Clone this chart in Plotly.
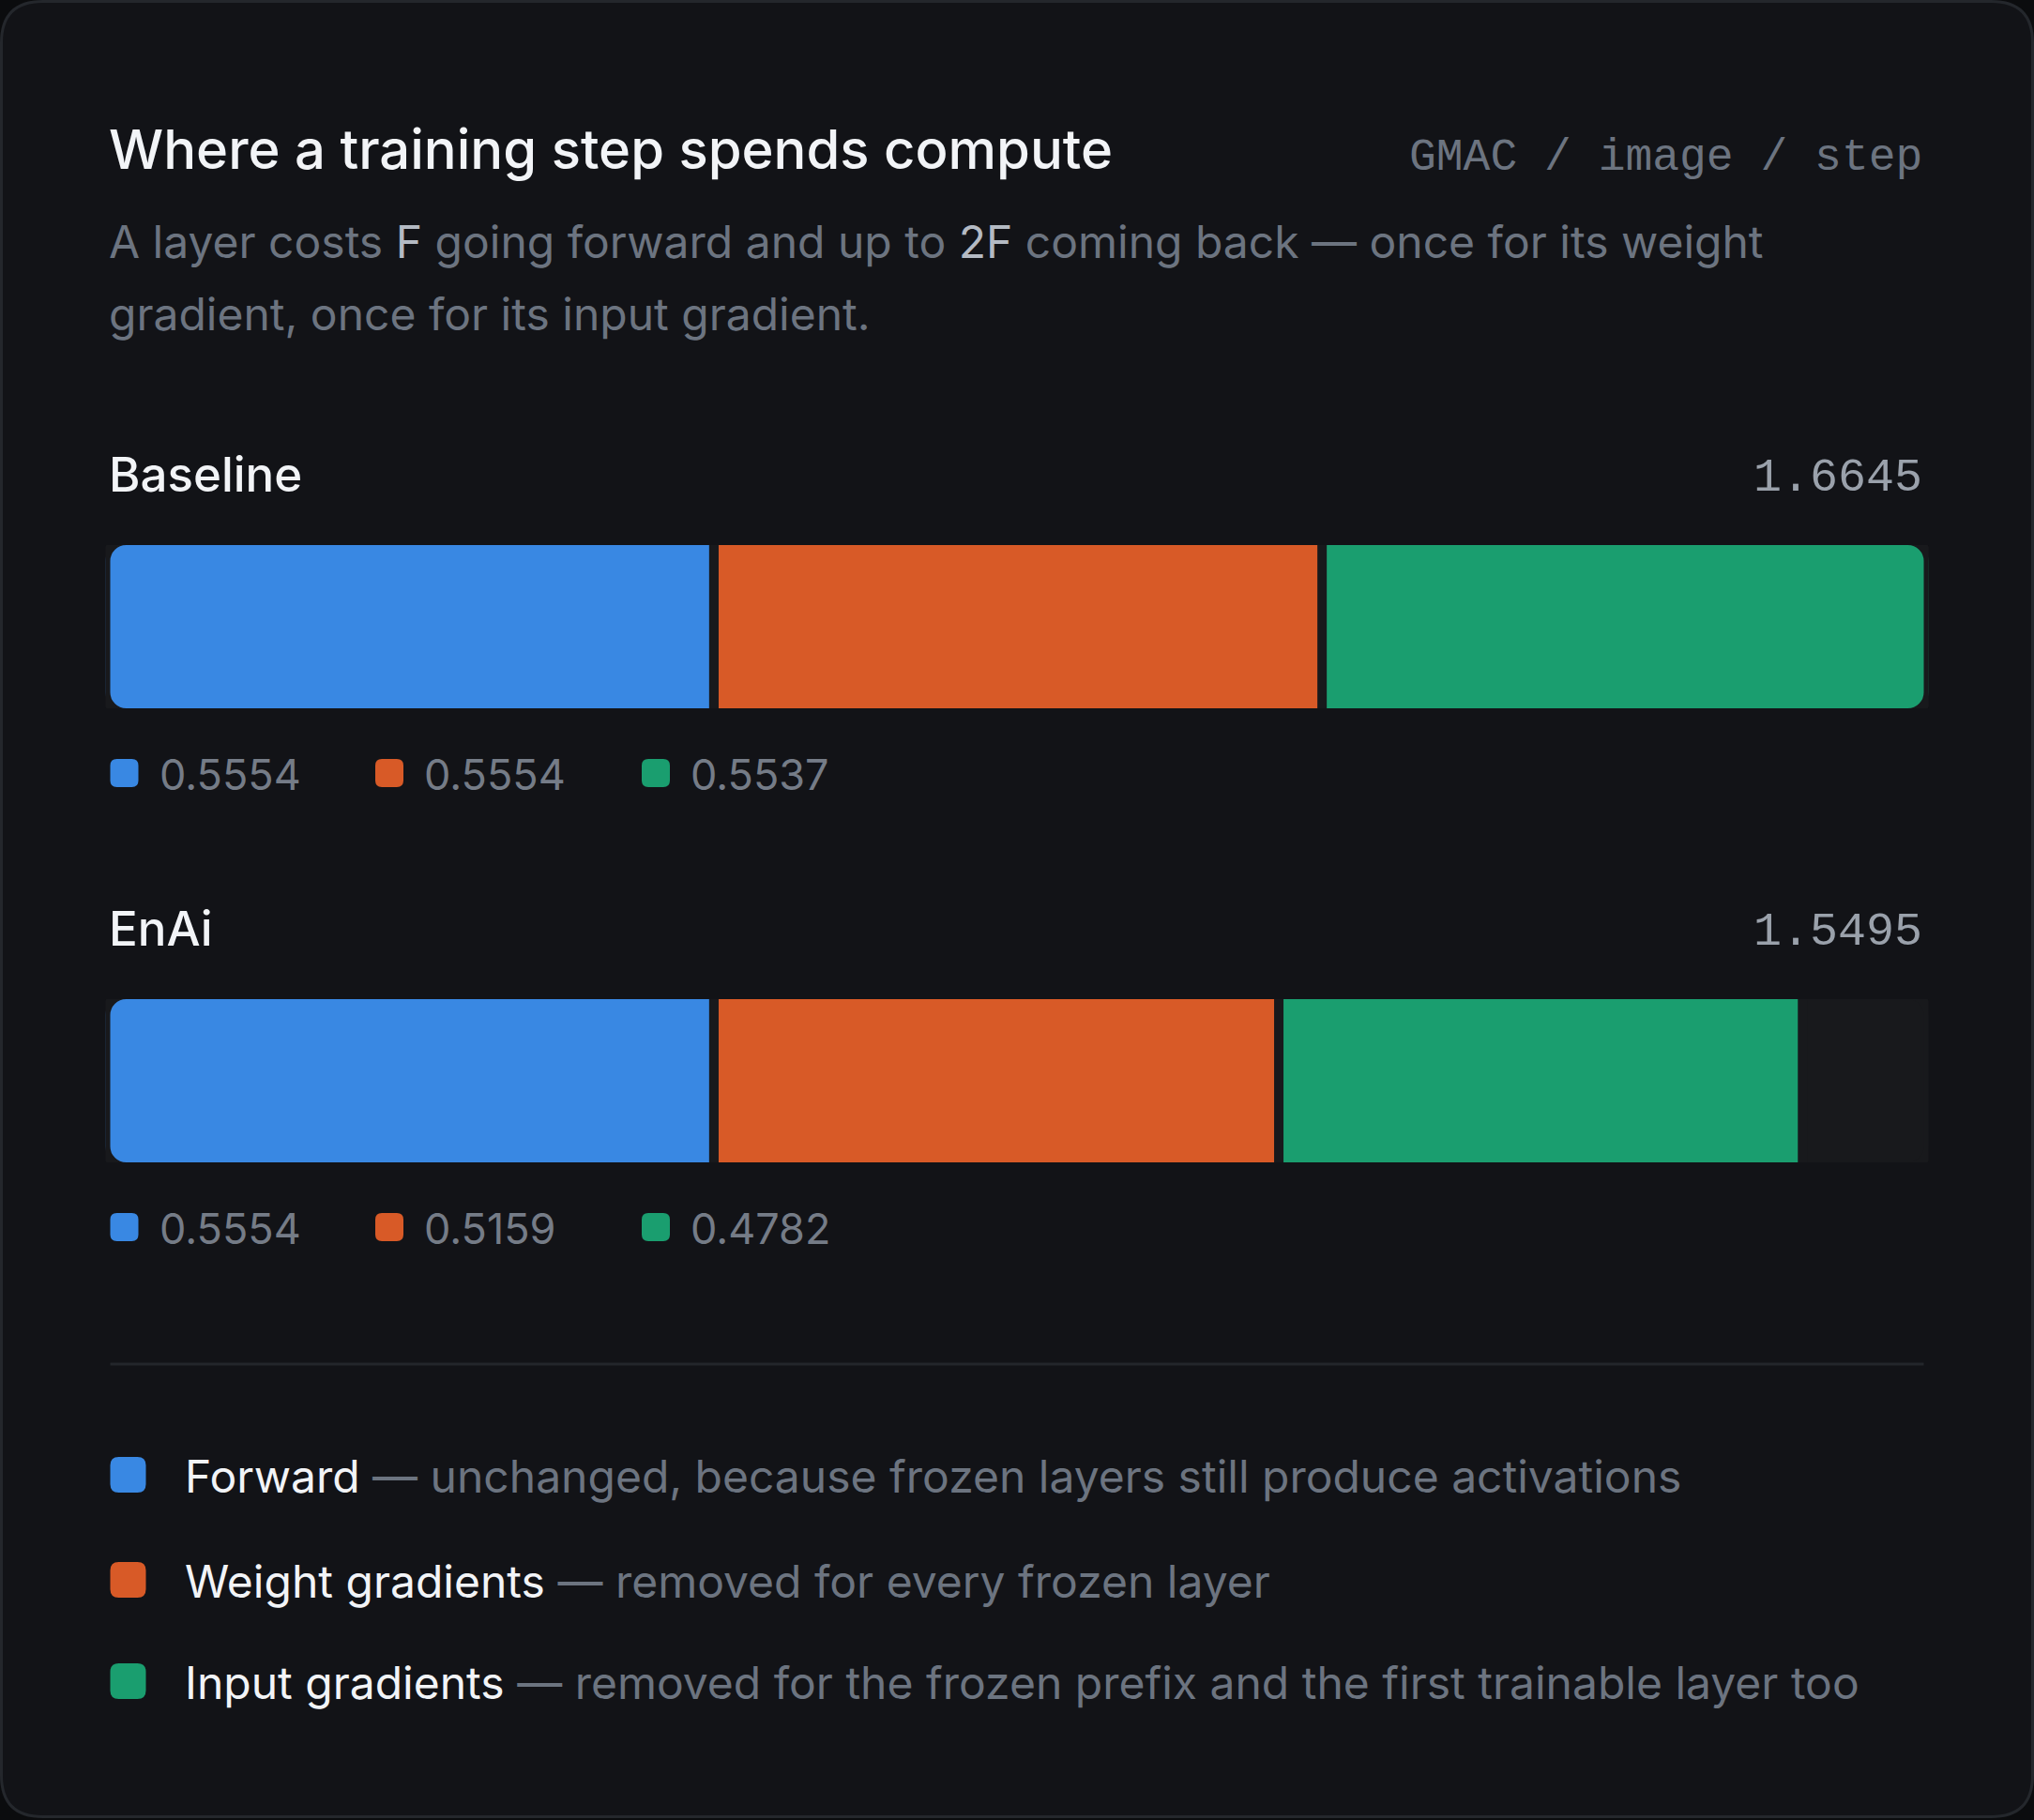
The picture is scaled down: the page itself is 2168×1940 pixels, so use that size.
import plotly.graph_objects as go

W, H = 2168, 1940

# data
rows = ["Baseline", "EnAi"]
forward = [0.5554, 0.5554]
weight_grad = [0.5554, 0.5159]
input_grad = [0.5537, 0.4782]
totals = [1.6645, 1.5495]

parts = ["Forward", "Weight gradients", "Input gradients"]
part_notes = [
    "unchanged, because frozen layers still produce activations",
    "removed for every frozen layer",
    "removed for the frozen prefix and the first trainable layer too",
]
colors = ["#3988e3", "#d85a27", "#1a9e6f"]

title = "Where a training step spends compute"
unit = "GMAC / image / step"
hl = "<span style='color:#b4bac3'>{}</span>"
subtitle_lines = [
    "A layer costs " + hl.format("F") + " going forward and up to " + hl.format("2F")
    + " coming back \u2014 once for its weight",
    "gradient, once for its input gradient.",
]

SANS = "Inter"
MONO = "Liberation Mono"
CARD = "#121317"
TRACK = "#18191c"
STROKE = 10
R = 22

LEFT, RIGHT = 117.5, 2050.5
TEXT_LEFT = LEFT - 4
BAR_TOP = [581, 1065]
BAR_H = 174
max_total = max(totals)


def px(x):
    return x / W


def py(y):
    return 1 - y / H


def rrect(x0, y0, x1, y1, r):
    pts = [
        f"M{px(x0 + r)},{py(y0)}", f"L{px(x1 - r)},{py(y0)}",
        f"Q{px(x1)},{py(y0)} {px(x1)},{py(y0 + r)}", f"L{px(x1)},{py(y1 - r)}",
        f"Q{px(x1)},{py(y1)} {px(x1 - r)},{py(y1)}", f"L{px(x0 + r)},{py(y1)}",
        f"Q{px(x0)},{py(y1)} {px(x0)},{py(y1 - r)}", f"L{px(x0)},{py(y0 + r)}",
        f"Q{px(x0)},{py(y0)} {px(x0 + r)},{py(y0)}", "Z",
    ]
    return " ".join(pts)


fig = go.Figure()
shapes = []
annotations = []


def note(x, y, text, size, color, family=SANS, anchor="left", weight=None):
    f = dict(family=family, size=size, color=color)
    if weight:
        f["weight"] = weight
    annotations.append(dict(x=px(x), y=py(y), xref="paper", yref="paper", text=text,
                            showarrow=False, xanchor=anchor, yanchor="middle", font=f))


# card
shapes.append(dict(type="path", path=rrect(1.5, 1.5, 2166.5, 1936.5, 44), xref="paper", yref="paper",
                   fillcolor=CARD, line=dict(color="#24272c", width=3), layer="below"))

# header
note(TEXT_LEFT, 159, title, 58, "#f2f4f7", weight=500)
note(RIGHT, 168, unit, 48, "#6c7480", family=MONO, anchor="right")
note(TEXT_LEFT, 258, subtitle_lines[0], 48, "#6c7480")
note(TEXT_LEFT, 334, subtitle_lines[1], 48, "#6c7480")

layout_axes = {}
for i, row in enumerate(rows):
    sfx = "" if i == 0 else str(i + 1)
    xa, ya = "x" + sfx, "y" + sfx
    top = BAR_TOP[i]
    bot = top + BAR_H
    line = dict(color=TRACK, width=STROKE)
    # bars are a touch taller than the axis box so the separator stroke is clipped top and bottom
    common = dict(y=[row], orientation="h", width=1 + STROKE / BAR_H, xaxis=xa, yaxis=ya,
                  hoverinfo="skip", showlegend=False)
    # the axis zero sits at the end of the forward pass: forward runs left, backward runs right,
    # so plotly rounds only the outer ends of the track
    fig.add_trace(go.Bar(x=[max_total - forward[i]], name="track",
                         marker=dict(color=TRACK, line=line, cornerradius=R), **common))
    end_r = R if totals[i] >= max_total else 0
    fig.add_trace(go.Bar(x=[weight_grad[i] + input_grad[i]], name=parts[2],
                         marker=dict(color=colors[2], line=line, cornerradius=end_r), **common))
    fig.add_trace(go.Bar(x=[weight_grad[i]], name=parts[1],
                         marker=dict(color=colors[1], line=line), **common))
    fig.add_trace(go.Bar(x=[-forward[i]], name=parts[0],
                         marker=dict(color=colors[0], line=line, cornerradius=R), **common))

    half = STROKE / 2
    layout_axes["xaxis" + sfx] = dict(domain=[px(LEFT - half), px(RIGHT + half)],
                                      range=[-forward[i], max_total - forward[i]],
                                      visible=False, fixedrange=True, anchor=ya)
    layout_axes["yaxis" + sfx] = dict(domain=[py(bot), py(top)], range=[-0.5, 0.5],
                                      visible=False, fixedrange=True, anchor=xa)

    # row header
    label_y = top - 75
    note(TEXT_LEFT, label_y, row, 51, "#f2f4f7", weight=500)
    note(RIGHT, label_y + 4, f"{totals[i]:.4f}", 50, "#9aa1ab", family=MONO, anchor="right")

    # value chips under the bar
    chip_y = bot + 69
    vals = [forward[i], weight_grad[i], input_grad[i]]
    chip_x = [117.5, 400, 684]
    for c, v, cx in zip(colors, vals, chip_x):
        shapes.append(dict(type="path", path=rrect(cx, chip_y - 15, cx + 30, chip_y + 15, 7),
                           xref="paper", yref="paper", fillcolor=c, line=dict(width=0)))
        note(cx + 50, chip_y + 1, f"{v:.4f}", 45, "#757c87")

# divider
shapes.append(dict(type="line", x0=px(LEFT), x1=px(RIGHT), y0=py(1454), y1=py(1454),
                   xref="paper", yref="paper", line=dict(color="#23262b", width=3)))

# key
key_y = [1572, 1684, 1792]
for c, name, desc, ky in zip(colors, parts, part_notes, key_y):
    shapes.append(dict(type="path", path=rrect(117.5, ky - 19, 155.5, ky + 19, 9),
                       xref="paper", yref="paper", fillcolor=c, line=dict(width=0)))
    note(195, ky + 1, f"<span style='color:#f2f4f7'>{name}</span> \u2014 {desc}", 48, "#6c7480")

fig.update_layout(
    width=W, height=H,
    margin=dict(l=0, r=0, t=0, b=0),
    paper_bgcolor="#0b0c0e",
    plot_bgcolor="rgba(0,0,0,0)",
    barmode="overlay",
    shapes=shapes,
    annotations=annotations,
    showlegend=False,
    **layout_axes,
)

fig.write_html("out.html", config={"displayModeBar": False},
               post_script="document.body.style.margin='0';"
                           "document.body.style.background='#0b0c0e';")
